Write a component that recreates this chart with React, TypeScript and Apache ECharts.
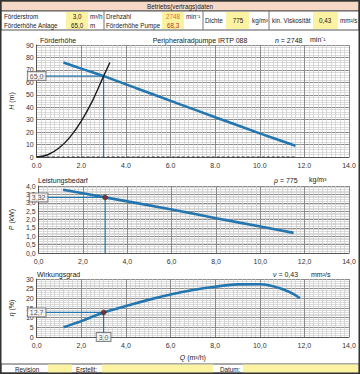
import React, { useEffect, useRef } from "react";
import * as echarts from "echarts";

// ---- data ----
const pumpHeadQ = [1.2, 2.0, 3.0, 4.5, 6.4, 8.0, 10.0, 11.6];
const pumpHeadH = [76, 71, 65, 55, 42.5, 32, 19, 9];
const systemQ = [0, 0.5, 1.0, 1.5, 2.0, 2.5, 3.0, 3.28];
const systemH = [0, 1.8, 7.2, 16.2, 28.9, 45.1, 65.0, 76];
const powerQ = [1.1, 3.0, 6.0, 8.0, 10.0, 11.5];
const powerP = [3.78, 3.32, 2.6, 2.08, 1.58, 1.2];
const effQ = [1.2, 2.0, 3.0, 4.0, 5.0, 6.0, 7.0, 8.0, 9.0, 10.0, 10.5, 11.0, 11.5, 11.8];
const effEta = [5.0, 8.2, 12.7, 16.0, 19.2, 22.0, 24.3, 26.0, 27.2, 27.3, 26.5, 24.8, 22.3, 20.0];
const opQ = 3.0;
const opH = 65.0;
const opP = 3.32;
const opEta = 12.7;
const opLabels = ["65,0", "3,32", "12,7", "3,0"];

const headerTitle = "Betriebs(vertrags)daten";
const chartTitles = ["Förderhöhe", "Leistungsbedarf", "Wirkungsgrad"];
const pumpName = "Peripheralradpumpe IRTP 088";

const BLUE = "#2376b0";
const YELLOW = "#fcf3a2";
const FONT = "Liberation Sans, Arial, sans-serif";

const zip = (a: number[], b: number[]) => a.map((v, i) => [v, b[i]]);
const comma = (v: number, d: number) => v.toFixed(d).replace(".", ",");

export default function App() {
  const ref = useRef<HTMLDivElement>(null);
  useEffect(() => {
    document.body.style.margin = "0";
    if (!ref.current) return;
    const chart = echarts.init(ref.current, null, { renderer: "svg" });

    const grids = [
      { left: 36, width: 313, top: 45, height: 112 },
      { left: 36, width: 313, top: 186, height: 67 },
      { left: 36, width: 313, top: 279, height: 58 },
    ];

    const axisLabel = { fontSize: 7, color: "#333", fontFamily: FONT };
    const splitMajor = { show: true, lineStyle: { color: "#8c8c8c", width: 1 } };
    const minorSplit = { show: true, lineStyle: { color: "#cbcbcb", width: 0.7 } };

    const xAxes = [0, 1, 2].map((i) => ({
      type: "value",
      gridIndex: i,
      min: 0,
      max: 14,
      interval: 2,
      axisLine: { show: true, onZero: false, lineStyle: { color: "#555", width: 1 } },
      axisTick: { show: false },
      axisLabel: {
        ...axisLabel,
        margin: 5,
        formatter: (v: number) => (i === 0 ? v.toFixed(1) : comma(v, 1)),
      },
      splitLine: splitMajor,
      minorTick: { show: false, splitNumber: 10 },
      minorSplitLine: minorSplit,
      name: i === 2 ? "{i|Q} (m³/h)" : "",
      nameLocation: "middle",
      nameGap: 17,
      nameTextStyle: {
        fontSize: 7,
        color: "#222",
        fontFamily: FONT,
        rich: { i: { fontStyle: "italic", fontSize: 7, fontFamily: FONT } },
      },
    }));

    const yConf = [
      { max: 90, interval: 10, d: -1, name: "{i|H} (m)", gap: 16 },
      { max: 4, interval: 0.5, d: 1, name: "{i|P} (kW)", gap: 20 },
      { max: 30, interval: 5, d: -1, name: "{i|η} (%)", gap: 18 },
    ];
    const yAxes = yConf.map((c, i) => ({
      type: "value",
      gridIndex: i,
      min: 0,
      max: c.max,
      interval: c.interval,
      axisLine: { show: true, lineStyle: { color: "#555", width: 1 } },
      axisTick: { show: false },
      axisLabel: {
        ...axisLabel,
        margin: 3,
        formatter: (v: number) => (c.d < 0 ? String(v) : comma(v, c.d)),
      },
      splitLine: splitMajor,
      minorTick: { show: false, splitNumber: 5 },
      minorSplitLine: minorSplit,
      name: c.name,
      nameLocation: "middle",
      nameGap: c.gap,
      nameTextStyle: {
        fontSize: 7,
        color: "#222",
        fontFamily: FONT,
        rich: { i: { fontStyle: "italic", fontSize: 7, fontFamily: FONT } },
      },
    }));

    const guide = (gi: number, y: number) => ({
      type: "line",
      xAxisIndex: gi,
      yAxisIndex: gi,
      data: [
        [0, y],
        [opQ, y],
        [opQ, 0],
      ],
      symbol: "none",
      lineStyle: { color: BLUE, width: 1.2 },
      silent: true,
      z: 4,
    });
    const boxLabel = (gi: number, pt: number[], text: string) => ({
      type: "scatter",
      xAxisIndex: gi,
      yAxisIndex: gi,
      data: [pt],
      symbolSize: 1,
      itemStyle: { color: "rgba(0,0,0,0)" },
      silent: true,
      z: 10,
      label: {
        show: true,
        position: "inside",
        formatter: text,
        fontSize: 7,
        fontFamily: FONT,
        color: "#222",
        backgroundColor: "#ffffff",
        borderColor: "#666",
        borderWidth: 1,
        padding: [1, 2, 0, 2],
      },
    });
    const opMarker = (gi: number, pt: number[]) => ({
      type: "scatter",
      xAxisIndex: gi,
      yAxisIndex: gi,
      data: [pt],
      symbolSize: 5,
      itemStyle: { color: "#8e1b1b", borderColor: "#333", borderWidth: 0.8 },
      silent: true,
      z: 8,
    });

    const series: any[] = [
      // chart 1
      {
        type: "line",
        xAxisIndex: 0,
        yAxisIndex: 0,
        data: [
          [0, 0],
          [pumpHeadQ[pumpHeadQ.length - 1], 0],
        ],
        symbol: "none",
        lineStyle: { color: "#222", width: 1, type: [3, 2] },
        z: 3,
      },
      guide(0, opH),
      {
        type: "line",
        xAxisIndex: 0,
        yAxisIndex: 0,
        data: zip(pumpHeadQ, pumpHeadH),
        smooth: 0.3,
        symbol: "none",
        lineStyle: { color: BLUE, width: 2.6 },
        z: 5,
      },
      {
        type: "line",
        xAxisIndex: 0,
        yAxisIndex: 0,
        data: zip(systemQ, systemH),
        smooth: 0.3,
        symbol: "none",
        lineStyle: { color: "#1c1c1c", width: 1.4 },
        z: 6,
      },
      boxLabel(0, [0, opH], opLabels[0]),
      // chart 2
      guide(1, opP),
      {
        type: "line",
        xAxisIndex: 1,
        yAxisIndex: 1,
        data: zip(powerQ, powerP),
        smooth: 0.3,
        symbol: "none",
        lineStyle: { color: BLUE, width: 2.6 },
        z: 5,
      },
      opMarker(1, [opQ, opP]),
      boxLabel(1, [0, opP], opLabels[1]),
      // chart 3
      guide(2, opEta),
      {
        type: "line",
        xAxisIndex: 2,
        yAxisIndex: 2,
        data: zip(effQ, effEta),
        smooth: 0.4,
        symbol: "none",
        lineStyle: { color: BLUE, width: 2.6 },
        z: 5,
      },
      opMarker(2, [opQ, opEta]),
      boxLabel(2, [0, opEta], opLabels[2]),
      boxLabel(2, [opQ, 0], opLabels[3]),
    ];

    const t = (x: number, y: number, text: string, extra: any = {}) => ({
      type: "text",
      x,
      y,
      z: 20,
      style: {
        text,
        fontSize: 7,
        fontFamily: FONT,
        fill: "#222",
        verticalAlign: "middle",
        rich: { i: { fontStyle: "italic", fontSize: 7, fontFamily: FONT, fill: "#222" } },
        ...extra,
      },
    });
    const h = (x: number, y: number, text: string, extra: any = {}) =>
      t(x, y, text, { fontSize: 6.3, ...extra });
    const r = (x: number, y: number, w: number, hh: number, fill: string, stroke?: string) => ({
      type: "rect",
      shape: { x, y, width: w, height: hh },
      z: 15,
      style: { fill, stroke: stroke || "none", lineWidth: 1 },
    });
    const vl = (x: number, y1: number, y2: number) => ({
      type: "line",
      z: 16,
      shape: { x1: x, y1, x2: x, y2 },
      style: { stroke: "#777", lineWidth: 1 },
    });

    const graphic: any[] = [
      // header
      r(1, 1, 358, 10, "#f5d8c6", "#555"),
      h(180, 6, headerTitle, { align: "center" }),
      r(1, 11, 358, 19, "#ffffff", "#555"),
      r(66, 12, 22, 17, YELLOW),
      r(162, 12, 22, 17, YELLOW),
      r(226, 12, 23, 17, YELLOW),
      r(313, 12, 25, 17, YELLOW),
      vl(104, 11, 30),
      vl(203, 11, 30),
      vl(269, 11, 30),
      h(4, 16, "Förderstrom"),
      h(4, 25, "Förderhöhe Anlage"),
      h(77, 16, "3,0", { align: "center" }),
      h(77, 25, "65,0", { align: "center" }),
      h(90, 16, "m³/h"),
      h(90, 25, "m"),
      h(106, 16, "Drehzahl"),
      h(106, 25, "Förderhöhe Pumpe"),
      h(173, 16, "2748", { align: "center", fill: "#e0672e" }),
      h(173, 25, "68,3", { align: "center", fill: "#cc2a2a" }),
      h(186, 16, "min⁻¹"),
      h(205, 20.5, "Dichte"),
      h(238, 20.5, "775", { align: "center" }),
      h(252, 20.5, "kg/m³"),
      h(272, 20.5, "kin. Viskosität"),
      h(325, 20.5, "0,43", { align: "center" }),
      h(340, 20.5, "mm²/s"),
      // chart titles
      t(40, 40, chartTitles[0]),
      t(200, 40, pumpName, { align: "center" }),
      t(275, 40, "{i|n} = 2748"),
      t(310, 39, "min⁻¹"),
      t(38, 180, chartTitles[1]),
      t(274, 180, "{i|ρ} = 775"),
      t(309, 179, "kg/m³"),
      t(37, 274.5, chartTitles[2]),
      t(273, 274.5, "{i|ν} = 0,43"),
      t(311, 274, "mm²/s"),
      // footer
      r(1, 364, 358, 9, "#ffffff", "#555"),
      r(48, 364.5, 24, 8.5, YELLOW),
      r(102, 364.5, 111, 8.5, YELLOW),
      r(243, 364.5, 115.5, 8.5, YELLOW),
      h(15, 369, "Revision"),
      h(76, 369, "Erstellt:"),
      h(220, 369, "Datum:"),
      // frame
      {
        type: "rect",
        z: 30,
        shape: { x: 0.75, y: 0.75, width: 358.5, height: 372.5 },
        style: { fill: "none", stroke: "#333", lineWidth: 1.5 },
      },
    ];

    chart.setOption({
      animation: false,
      backgroundColor: "#ffffff",
      grid: grids,
      xAxis: xAxes,
      yAxis: yAxes,
      series,
      graphic,
    });
    return () => chart.dispose();
  }, []);
  return <div ref={ref} style={{ width: 360, height: 374 }} />;
}
